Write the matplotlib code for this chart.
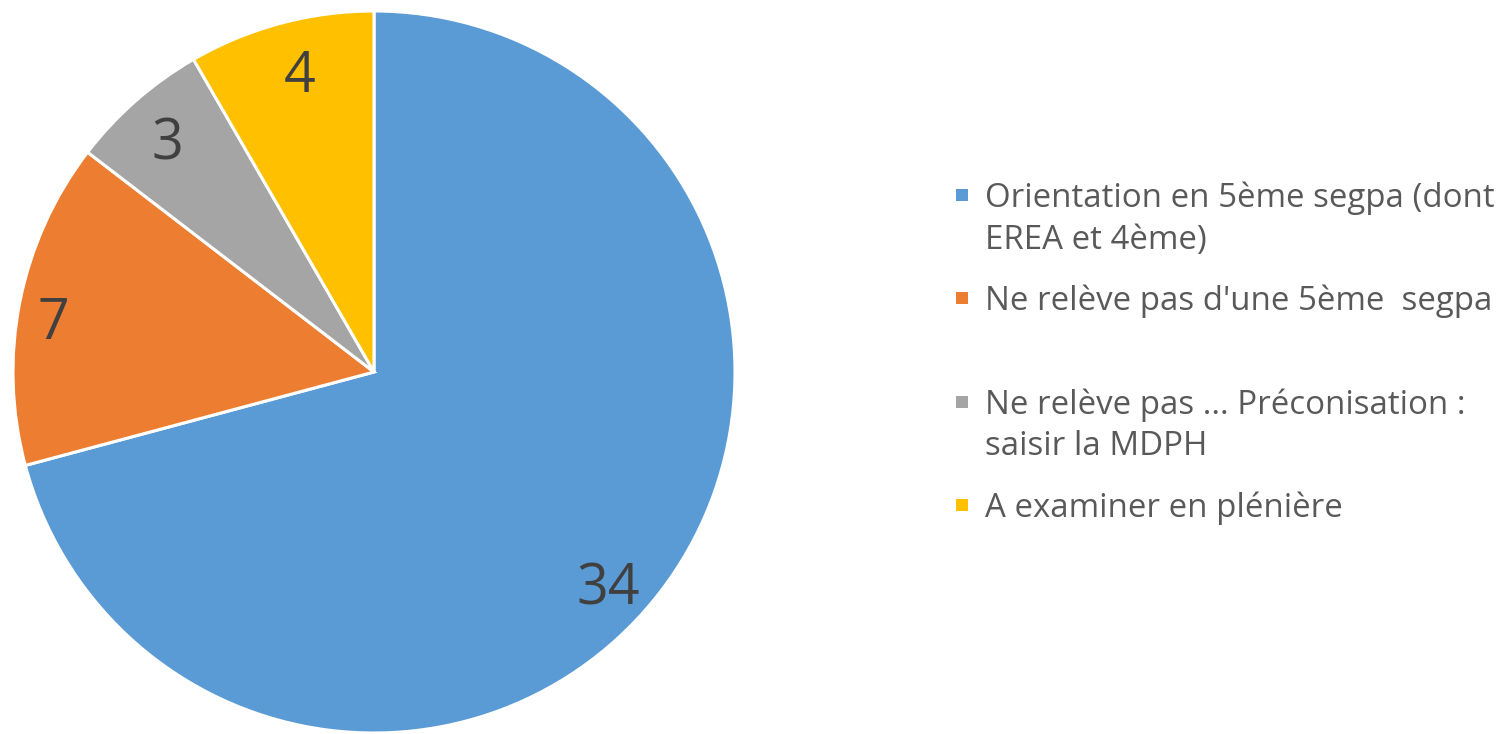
import numpy as np
import matplotlib
matplotlib.use("Agg")
import matplotlib.pyplot as plt
from matplotlib.patches import Rectangle
from matplotlib.transforms import offset_copy

plt.rcParams['font.family'] = ['Open Sans', 'DejaVu Sans']

categories = [
    "Orientation en 5ème segpa (dont\nEREA et 4ème)",
    "Ne relève pas d'une 5ème  segpa",
    "Ne relève pas ... Préconisation :\nsaisir la MDPH",
    "A examiner en plénière",
]
values = [34, 7, 3, 4]
colors = ["#5B9BD5", "#ED7D31", "#A5A5A5", "#FFC000"]
label_radii = [0.875, 0.90, 0.863, 0.857]
label_angle_shift = [-4.7, 1.7, 0.35, -1.0]

W, H = 1510, 734
fig = plt.figure(figsize=(W / 100, H / 100), dpi=100)

R_px = 361
cx, cy = 374, 372
lim = 1.01
size = 2 * lim * R_px
ax = fig.add_axes([(cx - size / 2) / W, (H - cy - size / 2) / H, size / W, size / H])

wedges, _ = ax.pie(values, colors=colors, startangle=90, counterclock=False,
                   radius=1.0,
                   wedgeprops=dict(edgecolor="white", linewidth=2.2))
ax.set_xlim(-lim, lim)
ax.set_ylim(-lim, lim)
ax.set_aspect('equal')

lbl_tr = offset_copy(ax.transData, fig=fig, x=0, y=-6, units='dots')
for w, v, r, da in zip(wedges, values, label_radii, label_angle_shift):
    ang = np.deg2rad((w.theta1 + w.theta2) / 2 + da)
    ax.text(r * np.cos(ang), r * np.sin(ang), str(v), ha='center', va='center',
            fontsize=40, color="#404040", transform=lbl_tr)

# legend
x_text = 985 / W
y_first = 195
step = 103.3
msz = 12
for i, (lab, col) in enumerate(zip(categories, colors)):
    yc = y_first + i * step
    fig.patches.append(Rectangle(((962 - msz / 2) / W, (H - yc - msz / 2) / H), msz / W, msz / H,
                                 transform=fig.transFigure, facecolor=col, edgecolor='none'))
    fig.text(x_text, (H - yc + 13.5) / H, lab, ha='left', va='top', fontsize=23.8,
             color="#595959", linespacing=1.34)

fig.savefig("out.png", dpi=100)
